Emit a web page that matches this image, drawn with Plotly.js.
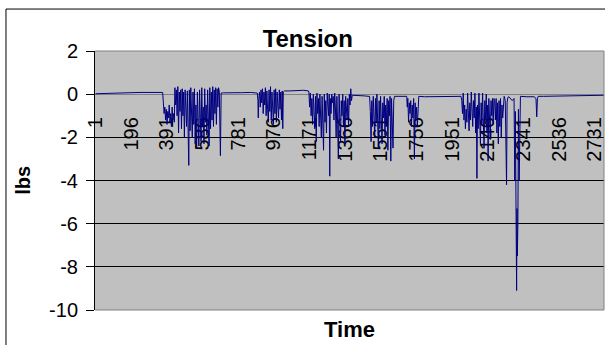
<!DOCTYPE html>
<html>
<head>
<meta charset="utf-8">
<script src="https://cdn.plot.ly/plotly-3.0.1.min.js"></script>
<style>
html,body{margin:0;padding:0;background:#fff;}
#chart{width:605px;height:345px;}
</style>
</head>
<body>
<div id="chart"></div>
<script>
// Sample index (time step) and tension reading (lbs)
const timeIdx = [
1,50,100,150,200,250,300,350,368,
372,376,380,384,388,392,396,400,404,408,412,416,420,424,428,432,435,439,443,447,451,455,459,463,467,471,475,479,483,487,491,495,499,503,507,511,514,518,522,526,530,534,538,542,546,550,554,558,562,566,570,574,578,582,586,590,594,598,602,606,610,614,618,622,626,630,634,638,642,646,650,654,658,662,666,670,674,678,684,688,
700,750,800,850,886,
889,891,894,898,902,906,910,914,918,922,926,930,934,938,942,946,950,954,958,962,966,970,974,978,982,986,990,994,998,1002,1006,1010,1014,1018,1022,1025,1028,1034,
1060,1100,1140,1165,
1168,1172,1176,1180,1184,1188,1192,1196,1200,1204,1208,1212,1216,1220,1224,1228,1232,1236,1240,1244,1248,1252,1256,1260,1264,1268,1272,1276,1279,1282,1285,1289,1293,1297,1301,1305,1309,1313,1317,1321,1325,1329,1333,1337,1341,1345,1349,1353,1357,1361,1365,1369,1373,1377,1381,1385,1389,1393,1397,1401,1405,
1440,1470,1497,
1500,1504,1508,1512,1516,1520,1524,1528,1532,1536,1540,1544,1548,1552,1556,1560,1564,1568,1572,1576,1580,1584,1588,1592,1596,1600,1604,1608,1612,1616,1620,1624,1628,1632,1636,
1660,1690,1703,
1706,1709,1713,1717,1721,1725,1729,1733,1737,1741,1745,1749,1753,1757,1761,1765,1769,
1800,1850,1900,1950,2000,
2004,2008,2012,2016,2020,2024,2028,2032,2036,2040,2044,2048,2052,2056,2060,2064,2068,2072,2076,2080,2084,2087,2090,2094,2098,2102,2106,2110,2114,2118,2122,2126,2130,2134,2138,2142,2146,2148,2152,2156,2160,2164,2168,2172,2176,2180,
2184,2188,2192,2196,2200,2204,2208,2212,2216,2220,2224,2228,2232,2236,2242,2245,2249,2252,2256,2262,
2270,2280,2290,2294,2297,2300,2302,2304,2306,2308,2311,2314,2318,2321,2325,
2360,2400,2410,2414,2418,2422,2450,2500,2550,2600,2650,2700,2750,2782
];
const tensionLbs = [
0.02,0.04,0.05,0.06,0.07,0.08,0.09,0.1,0.08,
-0.4,-0.9,-0.6,-1.2,-0.7,-1.4,-0.8,-1.1,-0.5,-1.3,-0.9,-1.5,-0.6,-1.2,-0.9,-1.3,0.3,-0.5,0.2,-1.0,0.35,-1.8,0.1,-0.8,0.2,-1.6,0.25,-1.0,0.1,-2.0,0.2,-0.7,-1.5,0.15,-1.2,-3.3,0.2,-1.7,0.3,-0.9,-2.0,0.1,-1.4,0.25,-2.3,-0.5,-2.5,0.1,-1.8,-2.4,0.2,-1.0,-2.2,0.3,-1.5,-0.6,-2.3,0.25,-1.3,-0.5,-1.9,0.2,-1.1,-2.4,0.3,-1.6,0.1,-1.2,0.35,-1.5,0.2,-0.9,0.3,-1.4,0.25,-0.6,0.3,0.1,-2.85,0.05,
0.06,0.08,0.07,0.08,0.05,
-0.3,-1.1,-0.2,0.1,-0.6,0.2,-0.4,0.25,-0.9,0.1,-0.5,0.3,-1.0,0.15,-0.7,-1.3,0.2,-0.8,0.35,-1.2,0.1,-0.6,-1.4,0.2,-0.9,0.25,-1.3,0.1,-0.5,-1.1,0.2,-0.7,0.1,-1.2,0.15,-1.6,0.1,0.15,
0.15,0.17,0.18,0.15,
0.1,-0.6,0.05,-1.0,-0.2,-1.4,0.0,-0.8,-1.6,-0.1,-2.2,0.05,-0.9,-0.2,-1.5,0.0,-0.7,-2.0,-0.1,-1.1,-2.6,0.0,-1.3,-0.3,-1.8,0.05,-0.5,-1.0,0.0,-3.8,-0.2,-0.9,0.0,-0.4,-0.1,-1.2,0.05,-0.6,-2.0,-0.1,-1.4,-3.0,0.0,-0.8,-2.2,-0.3,-1.0,0.0,-1.5,-0.3,-2.3,-0.1,-0.8,-1.2,-0.2,-1.5,0.0,-0.5,0.25,-0.3,-0.05,
-0.05,-0.08,-0.1,
-0.1,-0.8,-2.2,-0.3,-1.5,-0.1,-1.0,-2.0,-0.2,-1.3,0.0,-0.9,-2.5,-0.3,-1.6,-0.1,-1.2,-2.3,-0.4,-1.1,-0.1,-1.9,-0.5,-1.4,-0.2,-2.6,-0.3,-1.0,-0.1,-3.1,-0.2,-1.5,-2.5,-0.3,-0.1,
-0.1,-0.12,-0.1,
-0.6,-0.2,-1.3,-0.4,-0.9,-0.3,-1.5,-0.5,-1.1,-0.2,-3.0,-0.4,-1.2,-0.6,-1.5,-0.2,-0.1,
-0.12,-0.12,-0.13,-0.12,-0.1,
-0.3,-0.9,0.05,-1.2,-0.5,-1.6,-0.7,-1.3,0.05,-1.0,-1.7,-0.4,-1.2,0.1,-0.9,-1.5,-0.3,-1.1,0.05,-1.8,-0.6,-3.9,-0.5,-1.6,0.05,-0.9,-2.3,-0.4,-1.4,0.05,-1.0,-2.5,-0.3,-1.2,0.0,-1.8,-0.5,-3.1,-0.2,-1.3,-2.1,-0.3,-1.0,-0.2,-1.4,-0.2,
-0.3,-1.2,-0.2,-1.8,-0.4,-2.3,-0.3,-1.5,-0.2,-2.0,-0.5,-1.1,-0.2,-0.1,-0.3,-2.5,-4.2,-0.4,-0.15,-0.12,
-0.2,-0.3,-0.2,-4.0,-0.8,-5.5,-7.6,-9.1,-5.3,-7.5,-6.0,-0.7,-4.0,-0.6,-0.1,
-0.12,-0.12,-0.2,-1.05,-0.2,-0.1,-0.1,-0.09,-0.08,-0.07,-0.06,-0.05,-0.05,-0.05
];
const xTickVals = [1,196,391,586,781,976,1171,1366,1561,1756,1951,2146,2341,2536,2731];
const xTickText = ["1","196","391","586","781","976","1171","1366","1561","1756","1951","2146","2341","2536","2731"];
const yTickVals = [-10,-8,-6,-4,-2,0,2];
const yTickText = ["-10","-8","-6","-4","-2","0","2"];

const trace = {
  x: timeIdx, y: tensionLbs, type: 'scatter', mode: 'lines',
  line: {color: '#000080', width: 1}, hoverinfo: 'skip'
};

const F = 'Arial, "Liberation Sans", sans-serif';
const layout = {
  width: 605, height: 345,
  margin: {l: 95, r: 1, t: 51, b: 35},
  paper_bgcolor: '#ffffff',
  plot_bgcolor: '#c0c0c0',
  showlegend: false,
  title: {text: '<b>Tension</b>', font: {family: F, size: 24, color: '#000'},
          xref: 'paper', x: 0.418, xanchor: 'center', yref: 'container', y: 0.888, yanchor: 'middle'},
  xaxis: {
    range: [-2, 2782], anchor: 'free', position: 10/12,
    tickmode: 'array', tickvals: xTickVals, ticktext: xTickText,
    tickangle: -90, ticks: '', ticklabelstandoff: 14, ticklabeloverflow: 'allow',
    tickfont: {family: F, size: 20, color: '#000'},
    showgrid: false, zeroline: false,
    showline: true, linecolor: '#808080', linewidth: 1,
    layer: 'below traces'
  },
  yaxis: {
    range: [-10, 2], tickmode: 'array', tickvals: yTickVals, ticktext: yTickText,
    ticks: 'outside', ticklen: 8, tickcolor: '#000', tickwidth: 1,
    ticklabelstandoff: 4,
    tickfont: {family: F, size: 20, color: '#000'},
    showgrid: true, gridcolor: '#000000', gridwidth: 1,
    zeroline: false, showline: true, linecolor: '#000', linewidth: 1
  },
  shapes: [
    {type: 'line', xref: 'paper', yref: 'paper', x0: 0, x1: 1, y0: 1, y1: 1, line: {color: '#808080', width: 1}},
    {type: 'line', xref: 'paper', yref: 'paper', x0: 0, x1: 1, y0: 0, y1: 0, line: {color: '#808080', width: 1}},
    {type: 'line', xref: 'paper', yref: 'paper', x0: 1, x1: 1, y0: 0, y1: 1, line: {color: '#808080', width: 1}},
    {type: 'rect', xref: 'paper', yref: 'paper', x0: -0.1749, x1: 1.2, y0: -0.3, y1: 1.162, line: {color: '#000', width: 1}, fillcolor: 'rgba(0,0,0,0)'}
  ],
  annotations: [
    {text: '<b>Time</b>', xref: 'paper', yref: 'paper', x: 0.5, y: -0.077, xanchor: 'center', yanchor: 'middle', showarrow: false, font: {family: F, size: 22, color: '#000'}},
    {text: '<b>lbs</b>', xref: 'paper', yref: 'paper', x: -0.143, y: 0.5, xanchor: 'center', yanchor: 'middle', textangle: -90, showarrow: false, font: {family: F, size: 20, color: '#000'}}
  ]
};

Plotly.newPlot('chart', [trace], layout, {displayModeBar: false, staticPlot: true});
</script>
</body>
</html>
